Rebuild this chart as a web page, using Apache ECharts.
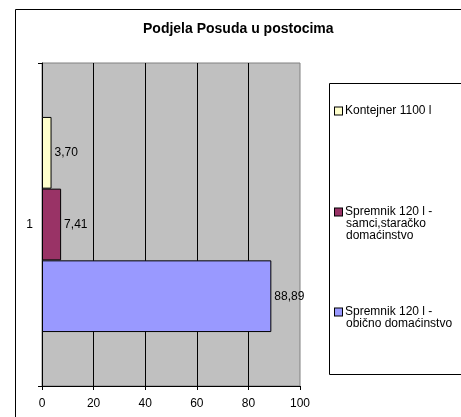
<!DOCTYPE html>
<html>
<head>
<meta charset="utf-8">
<script src="https://cdn.jsdelivr.net/npm/echarts@6/dist/echarts.min.js"></script>
<style>
  html, body { margin: 0; padding: 0; background: #fff; }
  #chart { width: 461px; height: 417px; }
</style>
</head>
<body>
<div id="chart"></div>
<script>
// Data
const categories = ['1'];
const seriesNames = ['Kontejner 1100 l', 'Spremnik 120 l -\nsamci,staračko\ndomaćinstvo', 'Spremnik 120 l -\nobično domaćinstvo'];
const seriesColors = ['#FFFFCC', '#993366', '#9999FF'];
const seriesValues = [[3.70], [7.41], [88.89]];
const xTicks = [0, 20, 40, 60, 80, 100];

const FONT = '"Liberation Sans", Arial, sans-serif';

const series = seriesNames.map((name, i) => ({
    name: name,
    type: 'bar',
    data: seriesValues[i],
    barGap: '0%',
    barCategoryGap: '33.4%',
    itemStyle: { color: seriesColors[i], borderColor: '#000', borderWidth: 1 },
    label: {
        show: true,
        position: 'right',
        distance: 3,
        color: '#000',
        fontFamily: FONT,
        fontSize: 12,
        formatter: p => p.value.toFixed(2).replace('.', ',')
    }
}));

// legend squares drawn as rich text so they line up with the first text line
const rich = {
    s: { width: 11, height: 8 },
    s2: { width: 3, height: 8 },
    t: { fontFamily: FONT, fontSize: 12, lineHeight: 12, color: '#000' }
};
seriesColors.forEach((c, i) => {
    rich['b' + i] = { width: 7, height: 7, backgroundColor: c, borderColor: '#000', borderWidth: 1 };
});

const legendTops = [105, 206, 306];
const legends = seriesNames.map((name, i) => ({
    data: [name],
    left: 330,
    top: legendTops[i],
    itemWidth: 0,
    itemHeight: 0,
    itemGap: 0,
    selectedMode: false,
    padding: 0,
    icon: 'none',
    formatter: n => n.split('\n').map((line, k) =>
        (k === 0 ? '{b' + i + '|}{s2|}' : '{s|}') + '{t|' + line + '}').join('\n'),
    textStyle: { fontFamily: FONT, fontSize: 12, lineHeight: 12, color: '#000', rich: rich }
}));

const chart = echarts.init(document.getElementById('chart'));
chart.setOption({
    animation: false,
    backgroundColor: '#fff',
    title: {
        text: 'Podjela Posuda u postocima',
        left: 143,
        top: 22,
        padding: 0,
        textStyle: { fontFamily: FONT, fontSize: 14, fontWeight: 'bold', color: '#000' }
    },
    graphic: [
        { type: 'rect', shape: { x: 15.5, y: 9.5, width: 470, height: 420 }, style: { fill: null, stroke: '#000', lineWidth: 1 }, z: 0 },
        { type: 'rect', shape: { x: 329.5, y: 83.5, width: 140, height: 291 }, style: { fill: '#fff', stroke: '#000', lineWidth: 1 }, z: 1 }
    ],
    legend: legends,
    grid: {
        left: 42, right: 161, top: 63, bottom: 31,
        show: true,
        backgroundColor: '#C0C0C0',
        borderColor: '#808080',
        borderWidth: 1
    },
    xAxis: {
        type: 'value',
        min: xTicks[0],
        max: xTicks[xTicks.length - 1],
        interval: 20,
        axisLine: { show: true, lineStyle: { color: '#000', width: 1 } },
        axisTick: { show: true, length: 4, lineStyle: { color: '#000' } },
        axisLabel: { color: '#000', fontFamily: FONT, fontSize: 12, margin: 12 },
        splitLine: { show: true, showMinLine: false, showMaxLine: false, lineStyle: { color: '#000', width: 1 } }
    },
    yAxis: {
        type: 'category',
        data: categories,
        axisLine: { show: true, lineStyle: { color: '#000', width: 1 } },
        axisTick: { show: true, length: 4, lineStyle: { color: '#000' } },
        axisLabel: { color: '#000', fontFamily: FONT, fontSize: 12, margin: 9 }
    },
    series: series
});
</script>
</body>
</html>
